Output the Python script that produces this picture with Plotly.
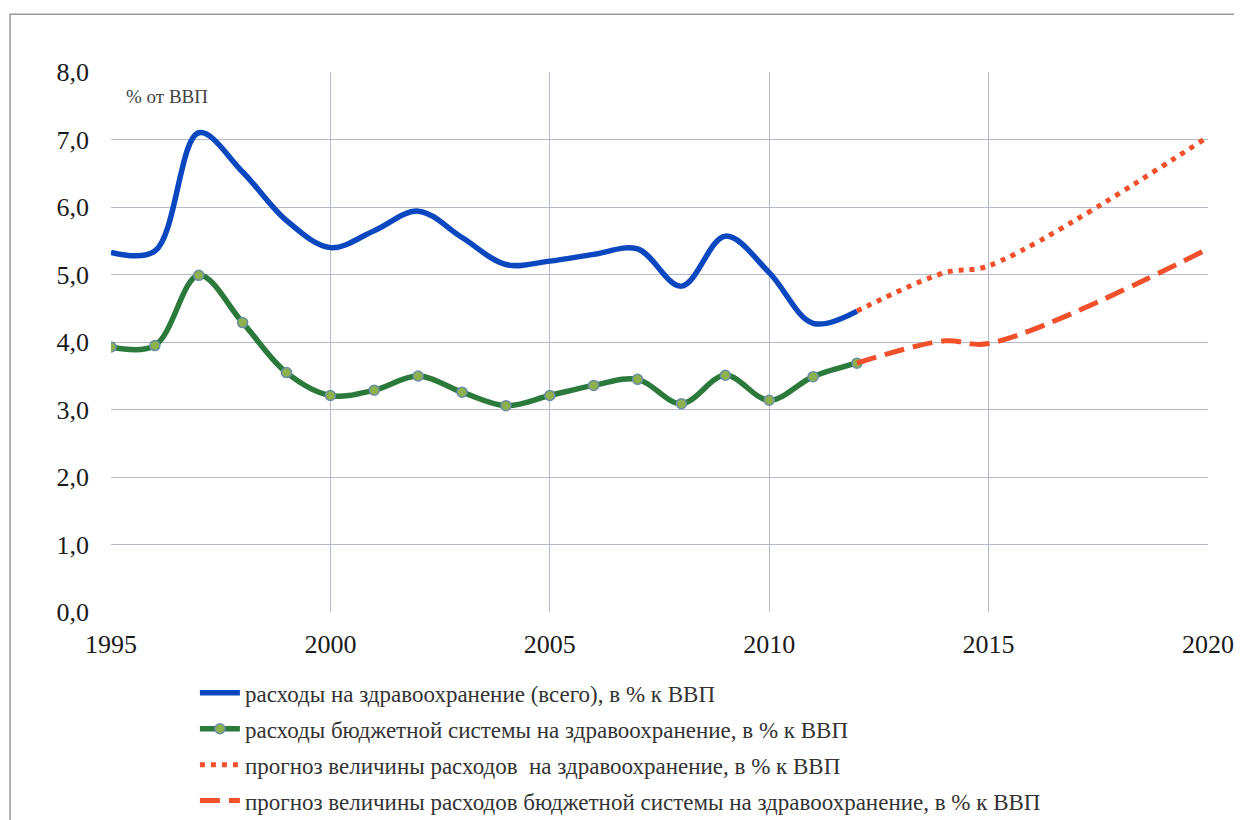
import plotly.graph_objects as go

# fact, 1995-2012
years = list(range(1995, 2013))
total = [5.33, 5.35, 7.10, 6.52, 5.80, 5.40, 5.65, 5.94, 5.55, 5.15,
         5.20, 5.30, 5.38, 4.83, 5.57, 5.03, 4.28, 4.46]
budget = [3.93, 3.95, 4.99, 4.29, 3.55, 3.21, 3.29, 3.50, 3.26, 3.06,
          3.21, 3.36, 3.45, 3.09, 3.51, 3.14, 3.49, 3.69]

# forecast
fc_years = [2012, 2014, 2015, 2020]
fc_total = [4.46, 5.03, 5.13, 7.04]
fc_budget = [3.69, 4.02, 3.98, 5.38]

names = [
    "расходы на здравоохранение (всего), в % к ВВП",
    "расходы бюджетной системы на здравоохранение, в % к ВВП",
    "прогноз величины расходов  на здравоохранение, в % к ВВП",
    "прогноз величины расходов бюджетной системы на здравоохранение, в % к ВВП",
]

serif = "'Liberation Serif', 'DejaVu Serif', serif"
red = "#F2502A"

fig = go.Figure()
fig.add_trace(go.Scatter(x=years, y=total, name=names[0], legendgroup="a",
                         mode="lines", line=dict(color="#0B48C0", width=5.5, shape="spline")))
fig.add_trace(go.Scatter(x=years, y=budget, name=names[1], legendgroup="b",
                         mode="lines+markers",
                         line=dict(color="#2B7A3B", width=5.5, shape="spline"),
                         marker=dict(size=10, color="#8DB14C",
                                     line=dict(color="#6C8DA8", width=1.5))))
fig.add_trace(go.Scatter(x=fc_years, y=fc_total, name=names[2], legendgroup="c",
                         mode="lines", line=dict(color=red, width=5, dash="5px,6px", shape="spline")))
fig.add_trace(go.Scatter(x=fc_years, y=fc_budget, name=names[3], legendgroup="d",
                         mode="lines", line=dict(color=red, width=5, dash="20px,9px", shape="spline")))

fig.update_layout(
    width=1242, height=820,
    margin=dict(l=103, r=42, t=64, b=207),
    paper_bgcolor="white", plot_bgcolor="white",
    separators=", ",
    font=dict(family=serif, size=20, color="#1a1a1a"),
    showlegend=True,
    legend=dict(orientation="v", x=0.0765, y=0.191, xanchor="left", yanchor="top",
                yref="container",
                font=dict(family=serif, size=23, color="#333333"),
                tracegroupgap=3, itemwidth=40, bgcolor="rgba(0,0,0,0)"),
    annotations=[dict(text="% от ВВП", xref="paper", yref="paper", x=0.012, y=0.955,
                      xanchor="left", yanchor="middle", showarrow=False,
                      font=dict(family=serif, size=19, color="#444444"))],
    shapes=[dict(type="rect", xref="paper", yref="paper", x0=-0.092, y0=-0.4,
                 x1=1.06, y1=1.107, line=dict(color="#9a9a9a", width=1.5))],
)
fig.update_xaxes(range=[1995, 2020], tick0=1995, dtick=5, showgrid=True,
                 gridcolor="#B4BACB", gridwidth=1, zeroline=False, showline=False,
                 ticks="", ticklabelstandoff=14, tickfont=dict(family=serif, size=26))
fig.update_yaxes(range=[0, 8], dtick=1, tickformat=".1f", showgrid=True,
                 gridcolor="#B4BACB", gridwidth=1, zeroline=False, showline=False,
                 ticks="", ticklabelstandoff=21, tickfont=dict(family=serif, size=26))

fig.write_html("out.html")
